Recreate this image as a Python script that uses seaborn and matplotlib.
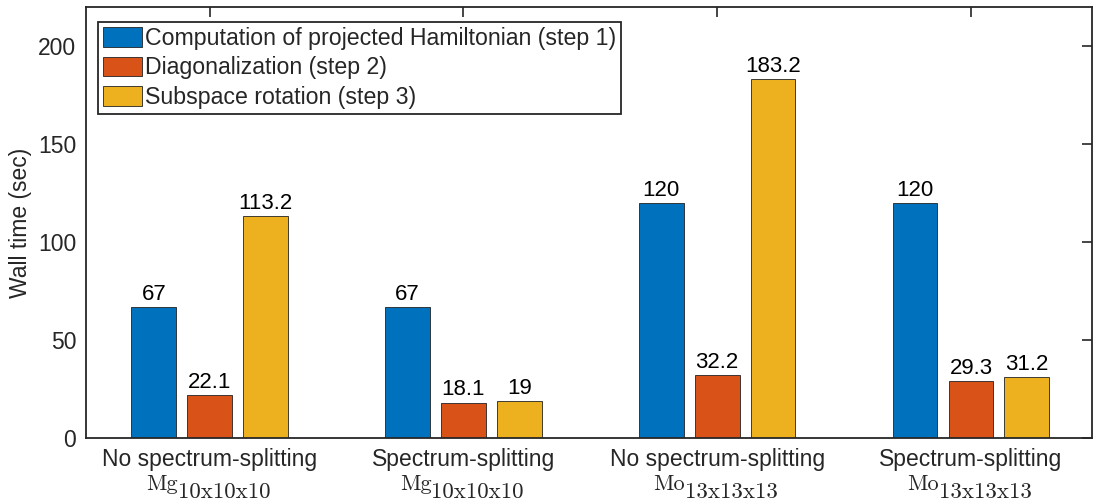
import pandas as pd
import matplotlib.pyplot as plt
import seaborn as sns

# --- data ---
case_titles = ['No spectrum-splitting', 'Spectrum-splitting',
               'No spectrum-splitting', 'Spectrum-splitting']
systems = ['Mg', 'Mg', 'Mo', 'Mo']
grids = ['10x10x10', '10x10x10', '13x13x13', '13x13x13']
steps = ['Computation of projected Hamiltonian (step 1)',
         'Diagonalization (step 2)',
         'Subspace rotation (step 3)']
step1_time = [67, 67, 120, 120]
step2_time = [22.1, 18.1, 32.2, 29.3]
step3_time = [113.2, 19, 183.2, 31.2]

colors = ['#0072BD', '#D95319', '#EDB120']   # MATLAB default order

cases = [f'{t} {s}' for t, s in zip(case_titles, systems)]
cases = [f'{c} {i}' for i, c in enumerate(cases)]  # keep categories unique
rows = []
for step, vals in zip(steps, [step1_time, step2_time, step3_time]):
    for c, v in zip(cases, vals):
        rows.append({'case': c, 'step': step, 'time': v})
df = pd.DataFrame(rows)

sns.set_style('white')
plt.rcParams['font.family'] = ['Liberation Sans', 'DejaVu Sans']
ink = '#262626'

fig = plt.figure(figsize=(10.94, 5.04), dpi=100)
ax = fig.add_axes([0.0786, 0.131, 0.9196, 0.8546])

sns.barplot(data=df, x='case', y='time', hue='step', order=cases,
            hue_order=steps, palette=colors, saturation=1, errorbar=None,
            width=0.66, gap=0.2, edgecolor='#222222', linewidth=0.6, ax=ax)

# value labels on top of bars
for cont in ax.containers:
    ax.bar_label(cont, fmt='{:g}', padding=1.5, fontsize=16, color='black')

ax.set_ylim(0, 220)
ax.set_xlim(-0.487, 3.477)
ax.set_yticks([0, 50, 100, 150, 200])
ax.set_xticks(range(len(cases)))
ax.set_xticklabels(case_titles)
ax.set_xlabel('')
ax.set_ylabel('Wall time (sec)', fontsize=16.5, color=ink, labelpad=4.5)

ax.tick_params(direction='in', length=7, width=1.2, top=True, right=True,
               labelsize=16.5, color=ink, labelcolor=ink)
ax.tick_params(axis='x', pad=7)
ax.tick_params(axis='y', pad=7)
for sp in ax.spines.values():
    sp.set_visible(True)
    sp.set_color(ink)
    sp.set_linewidth(1.3)

# second line of each tick label: system name with a big subscript (MATLAB LaTeX look)
for i, (sysname, grid) in enumerate(zip(systems, grids)):
    ax.annotate(sysname, xy=(i, 0), xycoords=('data', 'axes fraction'),
                xytext=(-23, -37.5), textcoords='offset points',
                ha='right', va='baseline', fontsize=16, family='cmr10',
                color=ink, annotation_clip=False)
    ax.annotate(grid, xy=(i, 0), xycoords=('data', 'axes fraction'),
                xytext=(-23, -43.5), textcoords='offset points',
                ha='left', va='baseline', fontsize=16.5, family='cmr10',
                color=ink, annotation_clip=False)

# legend, square MATLAB-like box
old = ax.get_legend()
handles = old.legend_handles
labels = [t.get_text() for t in old.get_texts()]
old.remove()
leg = ax.legend(handles, labels, loc='upper left', bbox_to_anchor=(0.0119, 0.966),
                borderaxespad=0, fontsize=16.7, frameon=True, fancybox=False,
                edgecolor=ink, framealpha=1, handlelength=1.66, handleheight=0.9,
                handletextpad=0.15, labelspacing=0.28, borderpad=0.22)
leg.get_frame().set_linewidth(1.3)

fig.savefig('out.png', dpi=100)
